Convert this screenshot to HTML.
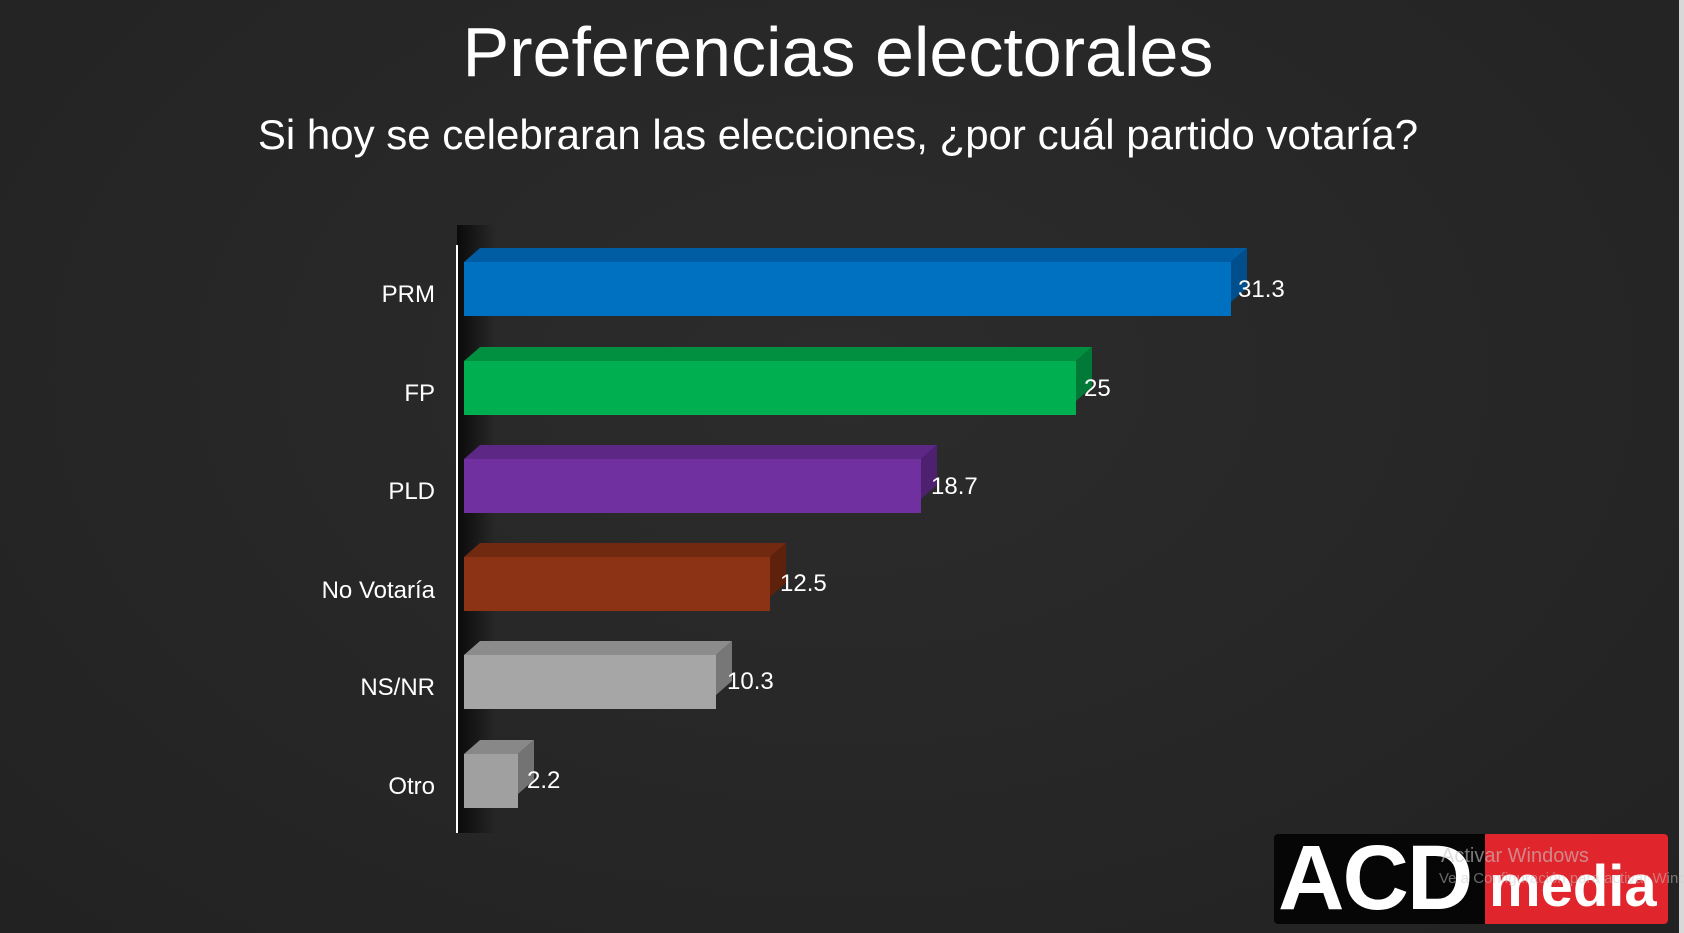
<!DOCTYPE html>
<html><head><meta charset="utf-8"><style>
body{margin:0;width:1684px;height:933px;overflow:hidden;background:#272727;font-family:"Liberation Sans",sans-serif;position:relative}
.t{position:absolute;left:0;width:1676px;text-align:center;color:#fff}
.bar{position:absolute;left:464px;height:54px}
.top{position:absolute;top:-14px;height:14px}
.v{position:absolute;color:#fff;font-size:24px;transform:translateY(-50%)}
.c{position:absolute;right:1249px;color:#fff;font-size:24px;transform:translateY(-50%)}
</style></head><body>
<div style="position:absolute;left:0;top:0;width:1684px;height:933px;background:radial-gradient(ellipse at 50% 40%,#2c2c2c,#222)"></div>
<div style="position:absolute;right:0;top:0;width:5px;height:933px;background:#d8d8d8"></div>
<div class="t" style="top:12px;font-size:70px">Preferencias electorales</div>
<div class="t" style="top:111px;font-size:42px">Si hoy se celebraran las elecciones, ¿por cuál partido votaría?</div>
<div style="position:absolute;left:457px;top:225px;width:38px;height:608px;background:linear-gradient(90deg,#0a0a0a,rgba(20,20,20,0))"></div>
<div style="position:absolute;left:456px;top:245px;width:2px;height:588px;background:#fff"></div>

<div class="bar" style="top:262px;width:767px;background:#0070c0"><div class="top" style="left:0;width:783px;background:#005ca3;clip-path:polygon(0 14px,16px 0,100% 0,767px 14px)"></div></div>
<div style="position:absolute;left:1231px;top:248px;width:16px;height:54px;background:#004f8c;clip-path:polygon(0 14px,16px 0,16px 40px,0 54px)"></div>
<div class="bar" style="top:361px;width:612px;background:#00b050"><div class="top" style="left:0;width:628px;background:#00903f;clip-path:polygon(0 14px,16px 0,100% 0,612px 14px)"></div></div>
<div style="position:absolute;left:1076px;top:347px;width:16px;height:54px;background:#007a36;clip-path:polygon(0 14px,16px 0,16px 40px,0 54px)"></div>
<div class="bar" style="top:459px;width:457px;background:#7030a0"><div class="top" style="left:0;width:473px;background:#5c2785;clip-path:polygon(0 14px,16px 0,100% 0,457px 14px)"></div></div>
<div style="position:absolute;left:921px;top:445px;width:16px;height:54px;background:#4d2070;clip-path:polygon(0 14px,16px 0,16px 40px,0 54px)"></div>
<div class="bar" style="top:557px;width:306px;background:#8b3314"><div class="top" style="left:0;width:322px;background:#712910;clip-path:polygon(0 14px,16px 0,100% 0,306px 14px)"></div></div>
<div style="position:absolute;left:770px;top:543px;width:16px;height:54px;background:#5e220c;clip-path:polygon(0 14px,16px 0,16px 40px,0 54px)"></div>
<div class="bar" style="top:655px;width:252px;background:#a6a6a6"><div class="top" style="left:0;width:268px;background:#8c8c8c;clip-path:polygon(0 14px,16px 0,100% 0,252px 14px)"></div></div>
<div style="position:absolute;left:716px;top:641px;width:16px;height:54px;background:#777;clip-path:polygon(0 14px,16px 0,16px 40px,0 54px)"></div>
<div class="bar" style="top:754px;width:54px;background:#a0a0a0"><div class="top" style="left:0;width:70px;background:#888;clip-path:polygon(0 14px,16px 0,100% 0,54px 14px)"></div></div>
<div style="position:absolute;left:518px;top:740px;width:16px;height:54px;background:#737373;clip-path:polygon(0 14px,16px 0,16px 40px,0 54px)"></div>

<div class="v" style="left:1238px;top:290px">31.3</div>
<div class="v" style="left:1084px;top:389px">25</div>
<div class="v" style="left:931px;top:487px">18.7</div>
<div class="v" style="left:780px;top:584px">12.5</div>
<div class="v" style="left:727px;top:682px">10.3</div>
<div class="v" style="left:527px;top:781px">2.2</div>

<div class="c" style="top:295px">PRM</div>
<div class="c" style="top:394px">FP</div>
<div class="c" style="top:492px">PLD</div>
<div class="c" style="top:591px">No Votaría</div>
<div class="c" style="top:688px">NS/NR</div>
<div class="c" style="top:787px">Otro</div>

<div style="position:absolute;left:1274px;top:834px;width:394px;height:90px;background:#060606;border-radius:4px"></div>
<div style="position:absolute;left:1485px;top:834px;width:183px;height:90px;background:#e0252c;border-radius:0 4px 4px 0"></div>
<div style="position:absolute;left:1278px;top:832px;color:#fff;font-weight:bold;font-size:92px;letter-spacing:-2px;line-height:92px">ACD</div>
<div style="position:absolute;left:1489px;top:852px;color:#fff;font-weight:bold;font-size:58px;line-height:70px">media</div>
<div style="position:absolute;left:1441px;top:845px;color:rgba(200,200,200,0.6);font-size:20px">Activar Windows</div>
<div style="position:absolute;left:1439px;top:870px;color:rgba(200,200,200,0.5);font-size:15px;white-space:nowrap">Ve a Configuración para activar Windows</div>
</body></html>
